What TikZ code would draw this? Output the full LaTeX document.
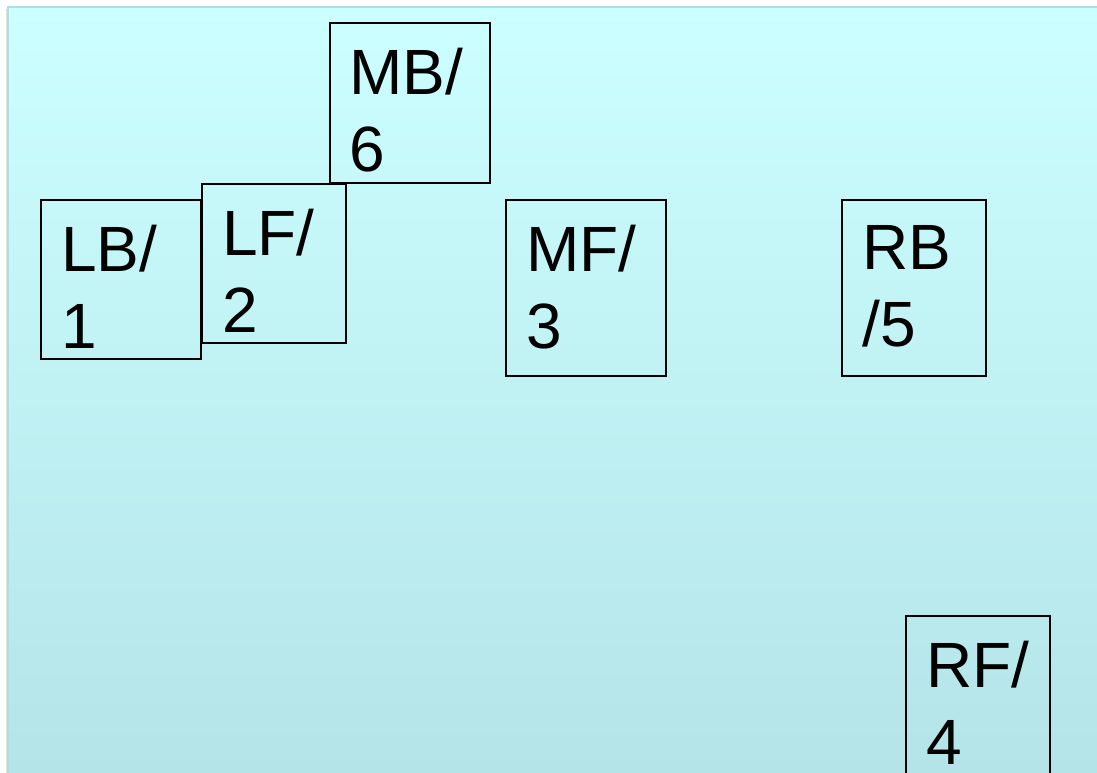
\documentclass[tikz,border=0pt]{standalone}
\usepackage{fontspec}
\setmainfont{Liberation Sans}
\usetikzlibrary{calc}
\definecolor{slidetop}{RGB}{204,255,255}
\definecolor{slidebot}{RGB}{180,228,232}
\definecolor{slideedge}{RGB}{176,222,222}
\begin{document}
\begin{tikzpicture}[x=1pt, y=-1pt, line join=miter,
		box/.style={draw=black, line width=1.7pt, anchor=north west, inner sep=0pt, minimum width=#1},
		box/.default=160,
		lbl/.style={anchor=north west, inner sep=0pt, align=left, font=\fontsize{64}{77}\selectfont}]
		% slide background
		\useasboundingbox (0,0) rectangle (1097,773);
		\fill[white] (0,0) rectangle (1097,773);
		\fill[black!12] (6,9) rectangle (1097,773);
		\shade[top color=slidetop, bottom color=slidebot] (8,7) rectangle (1097,773);
		\draw[slideedge, line width=1.5pt] (8,773) -- (8,7) -- (1097,7);
		% boxes
		\node[box, minimum height=160] (MB) at (329,22) {};
		\node[box, minimum height=159] (LB) at (40,199) {};
		\node[box=144, minimum height=159] (LF) at (201,183) {};
		\node[box, minimum height=176] (MF) at (505,199) {};
		\node[box=144, minimum height=176] (RB) at (841,199) {};
		\node[box=144, minimum height=200] (RF) at (905,615) {};
		% labels
		\node[lbl] (MBt) at ($(MB.north west)+(20,26)$) {MB/\\6};
		\node[lbl] (LBt) at ($(LB.north west)+(21,26)$) {LB/\\1};
		\node[lbl] (LFt) at ($(LF.north west)+(21,26)$) {LF/\\2};
		\node[lbl] (MFt) at ($(MF.north west)+(21,26)$) {MF/\\3};
		\node[lbl] (RBt) at ($(RB.north west)+(21,26)$) {RB\\/5};
		\node[lbl] (RFt) at ($(RF.north west)+(21,26)$) {RF/\\4};
\end{tikzpicture}
\end{document}
